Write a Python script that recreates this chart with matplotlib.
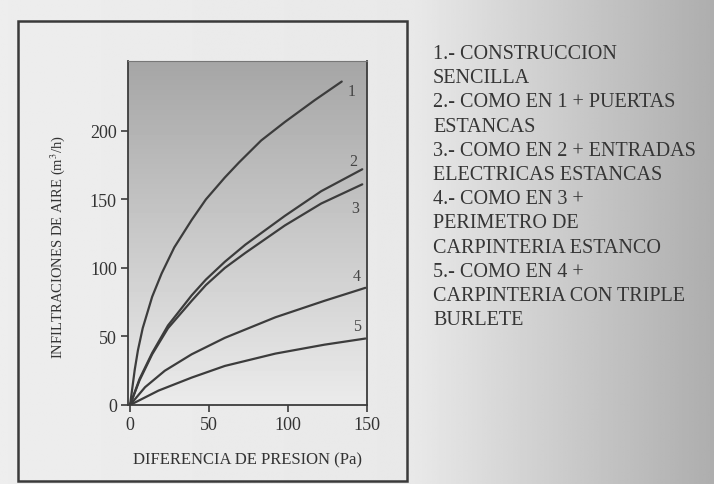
import numpy as np
import matplotlib
matplotlib.use("Agg")
import matplotlib.pyplot as plt
from matplotlib.patches import Rectangle

# ---- data ----
x1 = [0, 3, 5, 8, 14, 20, 28, 39, 48, 60, 69, 83, 98, 117, 134]
y1 = [0, 26, 40, 56, 79, 96, 115, 135, 150, 166, 177, 193, 206.5, 222.5, 236]
x2 = [0, 6, 14, 24, 39, 48, 60, 73, 98, 121, 147]
y2 = [0, 19, 38, 58, 80, 91.5, 104.5, 117, 138, 156, 172]
x3 = [0, 6, 14, 24, 39, 48, 60, 73, 98, 121, 147]
y3 = [0, 18, 37, 56, 76, 87.5, 100, 111, 131, 147, 161]
x4 = [0, 9.5, 22, 39, 60, 92, 123, 149]
y4 = [0, 13, 25, 37, 49, 64, 76, 85.5]
x5 = [0, 18, 39, 60, 92, 123, 149]
y5 = [0, 10.5, 20, 28.5, 37.5, 44, 48.5]
curve_labels = ["1", "2", "3", "4", "5"]
label_pos = [(138, 229), (139, 178), (140, 144), (141, 94), (141, 58)]
xticks = [0, 50, 100, 150]
yticks = [0, 50, 100, 150, 200]
xlabel = "DIFERENCIA DE PRESION (Pa)"
ylabel = "INFILTRACIONES DE AIRE (m$^3$/h)"
legend_lines = [
    "1.- CONSTRUCCION",
    "SENCILLA",
    "2.- COMO EN 1 + PUERTAS",
    "ESTANCAS",
    "3.- COMO EN 2 + ENTRADAS",
    "ELECTRICAS ESTANCAS",
    "4.- COMO EN 3 +",
    "PERIMETRO DE",
    "CARPINTERIA ESTANCO",
    "5.- COMO EN 4 +",
    "CARPINTERIA CON TRIPLE",
    "BURLETE",
]

plt.rcParams['font.family'] = ['Liberation Serif', 'DejaVu Serif']
plt.rcParams['mathtext.fontset'] = 'stix'

W, H = 714, 485
fig = plt.figure(figsize=(W / 100, H / 100), dpi=100)

# background gradient (paper scan look)
bg = fig.add_axes([0, 0, 1, 1], zorder=-10)
bg.set_axis_off()
xs = np.linspace(0, 1, 300)
row = np.where(xs < 0.58, 0.93 - 0.03 * xs, 0.913 - 0.55 * (xs - 0.58))
grad = np.tile(row, (50, 1))
bg.imshow(grad, cmap='gray', vmin=0, vmax=1, aspect='auto',
          extent=[0, 1, 0, 1], interpolation='bilinear')
bg.set_xlim(0, 1)
bg.set_ylim(0, 1)
# outer frame
bg.add_patch(Rectangle((18 / W, 1 - 482 / H), (407 - 18) / W, (482 - 22) / H,
                       fill=False, edgecolor='#3a3a3a', linewidth=1.8))

ax = fig.add_axes([128 / W, 1 - 406 / H, (367 - 128) / W, (406 - 62) / H])
XL = (-1.3, 150)
YL = (0, 251)
vg = np.linspace(0.92, 0.65, 100).reshape(-1, 1)
ax.imshow(vg, cmap='gray', vmin=0, vmax=1, aspect='auto',
          extent=[XL[0], XL[1], YL[0], YL[1]], origin='lower', zorder=0,
          interpolation='bilinear')
ax.set_xlim(*XL)
ax.set_ylim(*YL)

lc = '#3c3c3c'
for xx, yy in [(x1, y1), (x2, y2), (x3, y3), (x4, y4), (x5, y5)]:
    ax.plot(xx, yy, color=lc, linewidth=1.6, solid_capstyle='round',
            solid_joinstyle='round', zorder=2)

for lab, (lx, ly) in zip(curve_labels, label_pos):
    ax.text(lx, ly, lab, fontsize=11.5, color='#444444', ha='left', va='center')

for s in ax.spines.values():
    s.set_color('#3c3c3c')
    s.set_linewidth(1.3)
ax.spines['top'].set_linewidth(0.8)
ax.spines['top'].set_color('#777777')

ax.set_xticks(xticks)
ax.set_yticks(yticks)
ax.tick_params(direction='out', length=5, width=1.2, color='#3c3c3c',
               labelsize=13, labelcolor='#333333', pad=3)
ax.set_xlabel(xlabel, fontsize=12, color='#333333', labelpad=13)
ax.set_ylabel(ylabel, fontsize=10.5, color='#333333')
ax.yaxis.set_label_coords(-0.255, 0.462)

ty = 45
for i, line in enumerate(legend_lines):
    fig.text(433 / W, 1 - (ty + i * 24.2) / H, line, fontsize=14.5,
             color='#353535', ha='left', va='top')

fig.savefig('out.png', dpi=100)
